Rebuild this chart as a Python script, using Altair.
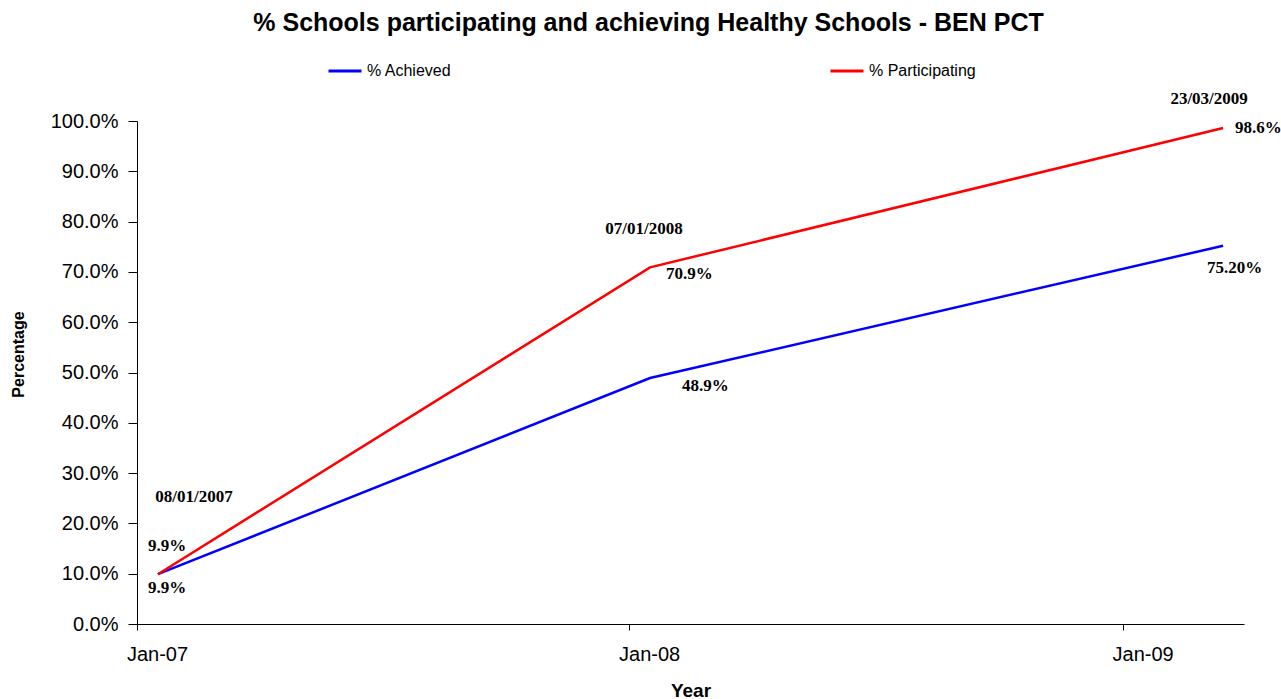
import altair as alt
import pandas as pd

# ---- data ----
dates = ["2007-01-08", "2008-01-07", "2009-03-23"]
date_labels = ["08/01/2007", "07/01/2008", "23/03/2009"]
series_names = ["% Achieved", "% Participating"]
achieved = [9.9, 48.9, 75.2]
participating = [9.9, 70.9, 98.6]
achieved_text = ["9.9%", "48.9%", "75.20%"]
participating_text = ["9.9%", "70.9%", "98.6%"]
year_ticks = [2007, 2008, 2009]
y_ticks = [0, 10, 20, 30, 40, 50, 60, 70, 80, 90, 100]

rows = []
for i, d in enumerate(dates):
    rows.append({"date": d, "series": series_names[0], "value": achieved[i],
                 "label": achieved_text[i], "idx": i, "dlabel": date_labels[i]})
    rows.append({"date": d, "series": series_names[1], "value": participating[i],
                 "label": participating_text[i], "idx": i, "dlabel": date_labels[i]})
df = pd.DataFrame(rows)

SANS = "Liberation Sans"
SERIF = "Liberation Serif"

x_enc = alt.X(
    "utcyearmonth(date):T",
    bandPosition=0.5,
    title="Year",
    scale=alt.Scale(
        type="utc",
        nice=False,
        domain=[alt.DateTime(year=2007, month=1, date=1, utc=True),
                alt.DateTime(year=2009, month=4, date=1, utc=True)],
    ),
    axis=alt.Axis(
        values=[alt.DateTime(year=y, month=1, date=1, utc=True) for y in year_ticks],
        labelExpr="utcFormat(datum.value, '%b-%y')",
        labelOffset=20,
        labelFlush=False,
        labelPadding=14,
        tickSize=6,
        grid=False,
        labelFont=SANS, labelFontSize=20, labelColor="black",
        titleFont=SANS, titleFontSize=19, titleFontWeight="bold", titleColor="black",
        titleY=66, titleBaseline="middle",
        domainColor="black", tickColor="black",
    ),
)
y_enc = alt.Y(
    "value:Q",
    title="Percentage",
    scale=alt.Scale(domain=[0, 100], nice=False),
    axis=alt.Axis(
        values=y_ticks,
        labelExpr="format(datum.value, '.1f') + '%'",
        tickSize=9,
        labelPadding=10,
        grid=False,
        labelFont=SANS, labelFontSize=20, labelColor="black",
        titleFont=SANS, titleFontSize=16, titleFontWeight="bold", titleColor="black",
        titleAngle=270, titleX=-119, titleY=233, titleAlign="center", titleBaseline="middle",
        domainColor="black", tickColor="black",
    ),
)
color_enc = alt.Color(
    "series:N",
    scale=alt.Scale(domain=series_names, range=["#0000FF", "#FF0000"]),
    legend=alt.Legend(
        orient="none", legendX=190, legendY=-68, direction="horizontal", title=None,
        symbolType="stroke", symbolStrokeWidth=3, symbolSize=1089,
        labelFont=SANS, labelFontSize=16, labelColor="black", labelOffset=4,
        columnPadding=372,
    ),
)

base = alt.Chart(df)
lines = base.mark_line(strokeWidth=2.5).encode(x=x_enc, y=y_enc, color=color_enc)

layers = [lines]

# label offsets (styling)
date_offsets = [(36, -77), (-6, -38), (-14, -29)]
part_offsets = [(-10, -28), (16, 7), (12, 0)]
ach_offsets = [(-10, 14), (32, 8), (-16, 22)]

for i in range(len(dates)):
    dx, dy = date_offsets[i]
    layers.append(
        base.transform_filter((alt.datum.idx == i) & (alt.datum.series == series_names[1]))
        .mark_text(font=SERIF, fontSize=17, fontWeight="bold", color="black",
                   align="center", baseline="middle", dx=dx, dy=dy)
        .encode(x=x_enc, y=y_enc, text="dlabel:N")
    )
    dx, dy = part_offsets[i]
    layers.append(
        base.transform_filter((alt.datum.idx == i) & (alt.datum.series == series_names[1]))
        .mark_text(font=SERIF, fontSize=17, fontWeight="bold", color="black",
                   align="left", baseline="middle", dx=dx, dy=dy)
        .encode(x=x_enc, y=y_enc, text="label:N")
    )
    dx, dy = ach_offsets[i]
    layers.append(
        base.transform_filter((alt.datum.idx == i) & (alt.datum.series == series_names[0]))
        .mark_text(font=SERIF, fontSize=17, fontWeight="bold", color="black",
                   align="left", baseline="middle", dx=dx, dy=dy)
        .encode(x=x_enc, y=y_enc, text="label:N")
    )

chart = (
    alt.layer(*layers)
    .properties(
        width=1107,
        height=503,
        autosize="none",
        padding={"left": 137, "top": 121, "right": 37, "bottom": 75},
        title=alt.TitleParams(
            text="% Schools participating and achieving Healthy Schools - BEN PCT",
            font=SANS, fontSize=25, fontWeight="bold", color="black",
            anchor="middle", frame="group", dx=-42, offset=17,
        ),
        background="white",
    )
    .configure_view(stroke=None)
)

chart.save("out.html", embed_options={"renderer": "svg", "actions": False})
